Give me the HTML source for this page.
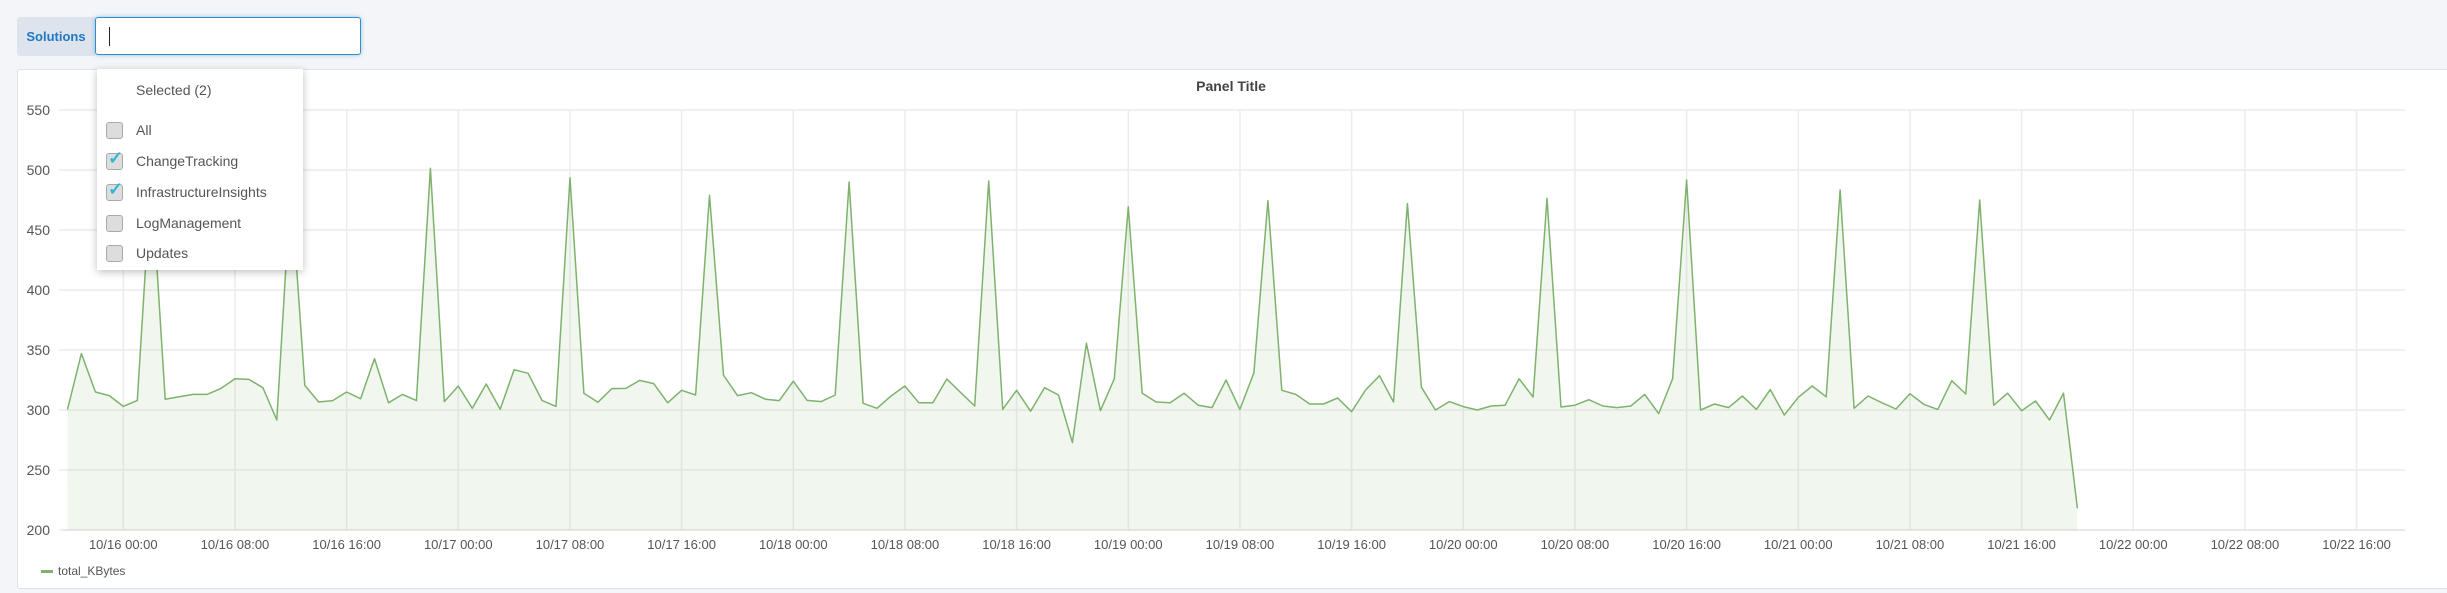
<!DOCTYPE html>
<html><head><meta charset="utf-8">
<style>
html,body{margin:0;padding:0;}
body{width:2447px;height:593px;background:#f4f5f8;position:relative;overflow:hidden;font-family:"Liberation Sans",sans-serif;}
#sol-label{position:absolute;left:17px;top:17px;width:78px;height:39px;background:#dde4ed;border-radius:3px 0 0 3px;color:#1f78c1;font-size:13px;font-weight:bold;line-height:39px;text-align:center;}
#sol-input{position:absolute;left:95px;top:17px;width:264px;height:36px;background:#fff;border:1.5px solid #2f8fc9;border-radius:3px;box-shadow:0 0 4px rgba(47,143,201,0.5);}
#cursor{position:absolute;left:13px;top:9px;width:1px;height:19px;background:#222;}
#panel{position:absolute;left:17px;top:69px;width:2440px;height:518px;background:#fff;border:1px solid #dde1e8;border-radius:3px;}
#chart{position:absolute;left:0;top:0;}
#dropdown{position:absolute;left:97px;top:69px;width:206px;height:201px;background:#fff;box-shadow:0 2px 8px rgba(0,0,0,0.25);font-size:14px;color:#555;}
.dd-item{position:absolute;left:39px;}
.cb{position:absolute;left:9px;width:15px;height:15px;border:1.5px solid #aaa;background:#ddd;border-radius:3px;}
</style></head><body>
<div id="sol-label">Solutions</div>
<div id="sol-input"><div id="cursor"></div></div>
<div id="panel"></div>
<svg id="chart" width="2447" height="593"></svg>
<div id="dropdown">
  <div class="dd-item" style="top:13px">Selected (2)</div>
  <div class="cb" style="top:53px"></div>
  <div class="dd-item" style="top:53px">All</div>
  <div class="cb" style="top:84px"><span style="position:absolute;left:1px;top:-6px;color:#33b5d8;font-size:18px;font-weight:bold">✓</span></div>
  <div class="dd-item" style="top:84px">ChangeTracking</div>
  <div class="cb" style="top:115px"><span style="position:absolute;left:1px;top:-6px;color:#33b5d8;font-size:18px;font-weight:bold">✓</span></div>
  <div class="dd-item" style="top:115px">InfrastructureInsights</div>
  <div class="cb" style="top:146px"></div>
  <div class="dd-item" style="top:146px">LogManagement</div>
  <div class="cb" style="top:176px"></div>
  <div class="dd-item" style="top:176px">Updates</div>
</div>
<script>
const startHour = -4; // first sample at 10/15 20:00, hourly
const values = [300.5,347,315,312,303,308,495,309,311,313,313,318,326,325.5,318.6,291.7,488,320.5,306.7,307.8,315,309.4,342.8,306,313,
307.8,501.4,307,320,301.4,321.7,300.6,333.6,330.6,308,303,493.6,313.9,306.4,317.8,318,324.7,322,306,316.4,312.5,479,329,312,
314.4,309,307.8,324,308,307,312.5,490,305.6,301.4,311.7,320,306,306,325.8,314.4,303.3,490.8,300.6,316.4,299,318.6,312.5,272.8,355.6,
299.4,326,469.4,314,306.7,306,314,304,302,325,300.5,331,474.4,316.4,313,305,305,310,298.6,316.7,328.6,306.7,472,319,
300,307,302.8,300,303.3,304,326,310.8,476.4,302.5,304,308.6,303.3,302,303.3,313,297,326,491.7,300,305,302,311.7,300.5,317,
295.8,310.6,320,311,483.3,301.4,311.7,306,300.8,313.6,304.7,300.5,324.4,313.3,475,304,314,299.4,307.5,291.7,314,218];
const yTicks = [200,250,300,350,400,450,500,550];
const xTickHours = [0,8,16,24,32,40,48,56,64,72,80,88,96,104,112,120,128,136,144,152,160];
const xTickLabels = ["10/16 00:00","10/16 08:00","10/16 16:00","10/17 00:00","10/17 08:00","10/17 16:00","10/18 00:00","10/18 08:00","10/18 16:00","10/19 00:00","10/19 08:00","10/19 16:00","10/20 00:00","10/20 08:00","10/20 16:00","10/21 00:00","10/21 08:00","10/21 16:00","10/22 00:00","10/22 08:00","10/22 16:00"];

const NS="http://www.w3.org/2000/svg";
const svg=document.getElementById('chart');
const X0=63, X1=2405, Y0=530, Y1=110;
const x = h => 123.3 + h*13.958;
const y = v => Y0 - (v-200)*(Y0-Y1)/350;
function mk(tag,attrs){const e=document.createElementNS(NS,tag);for(const k in attrs)e.setAttribute(k,attrs[k]);svg.appendChild(e);return e;}

const title=mk('text',{x:1231,y:91,'text-anchor':'middle','font-size':14,'font-weight':'bold',fill:'#444','font-family':'Liberation Sans, sans-serif'});
title.textContent='Panel Title';



yTicks.forEach(t=>{
  const l=mk('line',{x1:X0-4,x2:X1,y1:y(t),y2:y(t),stroke:'#ececec','stroke-width':1.5});
  
  
  const tx=mk('text',{x:50,y:y(t)+5,'text-anchor':'end','font-size':14,fill:'#555','font-family':'Liberation Sans, sans-serif'});
  tx.textContent=t;
  
  
});
xTickHours.forEach((h,i)=>{
  const l=mk('line',{x1:x(h),x2:x(h),y1:Y1,y2:Y0,stroke:'#ececec','stroke-width':1.5});
  
  
  const tx=mk('text',{x:x(h),y:549,'text-anchor':'middle','font-size':13,fill:'#555','font-family':'Liberation Sans, sans-serif'});
  tx.textContent=xTickLabels[i];
  
  
});
const base=mk('line',{x1:X0,x2:X1,y1:Y0,y2:Y0,stroke:'#e4e4e4','stroke-width':1.5});



let pts=values.map((v,i)=>x(startHour+i).toFixed(1)+','+y(v).toFixed(1));
const xs=x(startHour), xe=x(startHour+values.length-1);
const area=mk('polygon',{points:xs+','+Y0+' '+pts.join(' ')+' '+xe+','+Y0,fill:'rgba(126,178,109,0.11)'});


const line=mk('polyline',{points:pts.join(' '),fill:'none',stroke:'#7eb26d','stroke-width':1.5,'stroke-linejoin':'round'});



const sw=mk('rect',{x:41,y:570,width:12,height:3,fill:'#7eb26d'});


const lt=mk('text',{x:58,y:575,'font-size':12,fill:'#555','font-family':'Liberation Sans, sans-serif'});
lt.textContent='total_KBytes';


</script>
</body></html>
